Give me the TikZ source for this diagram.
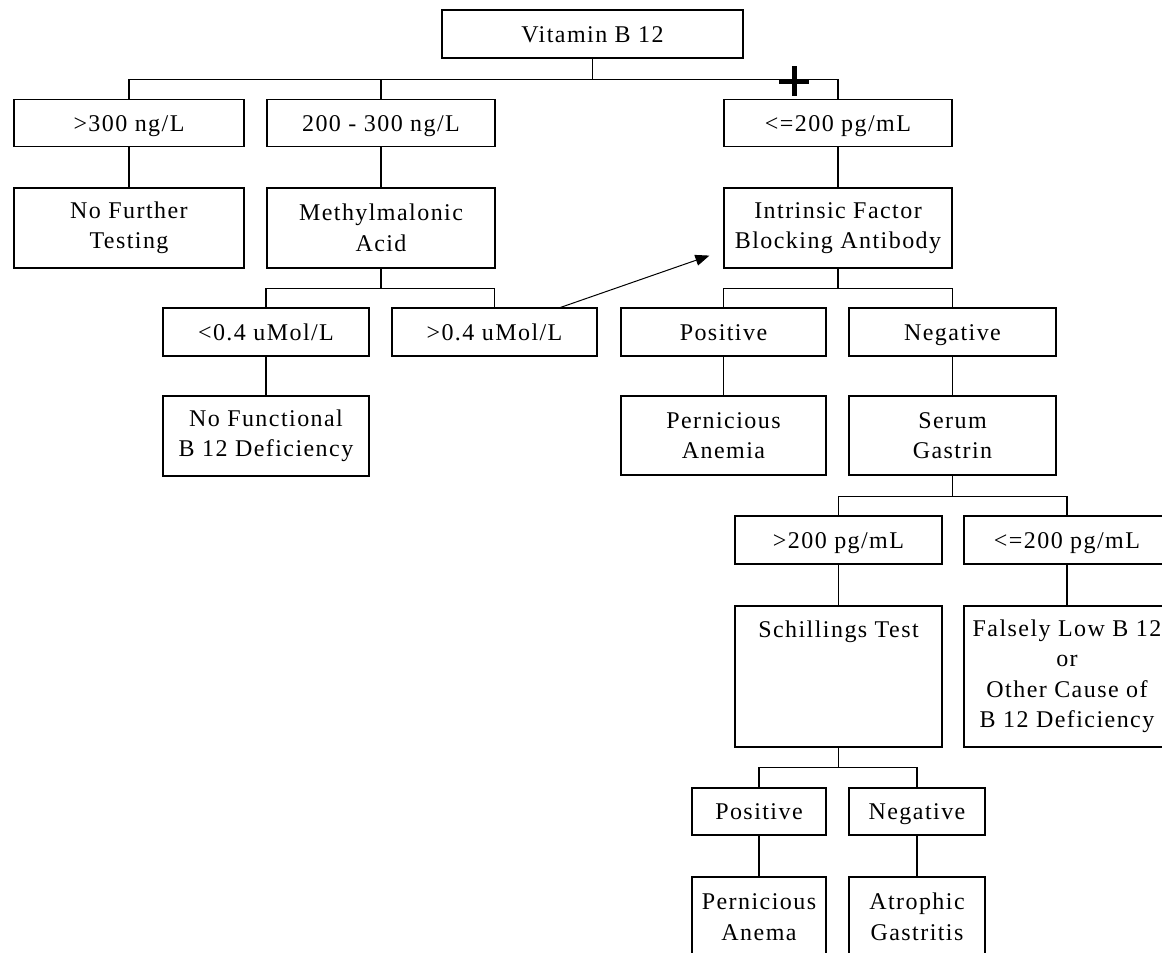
\documentclass[tikz,border=0pt]{standalone}
\usepackage{fontspec}
\setmainfont{Liberation Serif}[LetterSpace=6]
\usetikzlibrary{arrows.meta}
\begin{document}
\begin{tikzpicture}[x=1pt,y=-1pt,
  box/.style={draw=black,line width=1.2pt,inner sep=0pt,align=center,
    font=\fontsize{24}{30.5}\selectfont},
  one/.style={box,minimum height=47,text height=20pt,text depth=4pt},
  two/.style={box,minimum height=80},
  conn/.style={draw=black,line width=1.2pt},
  jump/.style={draw=black,line width=1pt,-{Triangle[length=14pt,width=11pt]}},
  cross/.style={draw=black,line width=5pt},
]
\clip (0,0) rectangle (1162,953);
\fill[white] (0,0) rectangle (1162,953);

% nodes
\node[one,minimum width=301,minimum height=48] (v) at (592.5,34) {Vitamin B 12};
\node[one,minimum width=230] (a1) at (129,123) {>300 ng/L};
\node[one,minimum width=228] (a2) at (381,123) {200 - 300 ng/L};
\node[one,minimum width=228] (a3) at (838,123) {<=200 pg/mL};
\node[two,minimum width=230] (b1) at (129,228) {No Further\\Testing};
\node[two,minimum width=228] (b2) at (381,228) {Methylmalonic\\Acid};
\node[two,minimum width=228] (b3) at (838,228) {Intrinsic Factor\\Blocking Antibody};
\node[one,minimum width=206,minimum height=48] (c1) at (266,332) {<0.4 uMol/L};
\node[one,minimum width=205,minimum height=48] (c2) at (494.5,332) {>0.4 uMol/L};
\node[one,minimum width=205,minimum height=48] (c3) at (723.5,332) {Positive};
\node[one,minimum width=207,minimum height=48] (c4) at (952.5,332) {Negative};
\node[two,minimum width=206] (d1) at (266,436) {No Functional\\B 12 Deficiency};
\node[two,minimum width=205,minimum height=79] (d3) at (723.5,435.5) {Pernicious\\Anemia};
\node[two,minimum width=207,minimum height=79] (d4) at (952.5,435.5) {Serum\\Gastrin};
\node[one,minimum width=207,minimum height=48] (e1) at (838.5,540) {>200 pg/mL};
\node[one,minimum width=206,minimum height=48] (e2) at (1067,540) {<=200 pg/mL};
\node[box,minimum width=207,text height=31pt,text depth=110pt] (f1) at (838.5,676.5) {Schillings Test};
\node[box,minimum width=206,minimum height=141] (f2) at (1067,676.5) {Falsely Low B 12\\or\\Other Cause of\\B 12 Deficiency};
\node[one,minimum width=134] (g1) at (759,811.5) {Positive};
\node[one,minimum width=136] (g2) at (917,811.5) {Negative};
\node[two,minimum width=134] (h1) at (759,917) {Pernicious\\Anema};
\node[two,minimum width=136] (h2) at (917,917) {Atrophic\\Gastritis};

% connectors
\draw[conn] (v.south) -- ++(0,21) -| (a1.north);
\draw[conn] (v.south) -- ++(0,21) -| (a2.north);
\draw[conn] (v.south) -- ++(0,21) -| (a3.north);
\draw[conn] (a1.south) -- (b1.north);
\draw[conn] (a2.south) -- (b2.north);
\draw[conn] (a3.south) -- (b3.north);
\draw[conn] (b2.south) -- ++(0,20) -| (c1.north);
\draw[conn] (b2.south) -- ++(0,20) -| (c2.north);
\draw[conn] (b3.south) -- ++(0,20) -| (c3.north);
\draw[conn] (b3.south) -- ++(0,20) -| (c4.north);
\draw[conn] (c1.south) -- (d1.north);
\draw[conn] (c3.south) -- (d3.north);
\draw[conn] (c4.south) -- (d4.north);
\draw[conn] (d4.south) -- ++(0,21) -| (e1.north);
\draw[conn] (d4.south) -- ++(0,21) -| (e2.north);
\draw[conn] (e1.south) -- (f1.north);
\draw[conn] (e2.south) -- (f2.north);
\draw[conn] (f1.south) -- ++(0,20) -| (g1.north);
\draw[conn] (f1.south) -- ++(0,20) -| (g2.north);
\draw[conn] (g1.south) -- (h1.north);
\draw[conn] (g2.south) -- (h2.north);
\draw[jump] ([xshift=-37pt]c2.north east) -- ([xshift=-14pt,yshift=13pt]b3.south west);

% plus mark
\coordinate (plus) at (794,81);
\draw[cross] ([xshift=-15pt]plus) -- ([xshift=15pt]plus);
\draw[cross] ([yshift=15pt]plus) -- ([yshift=-15pt]plus);
\end{tikzpicture}
\end{document}
